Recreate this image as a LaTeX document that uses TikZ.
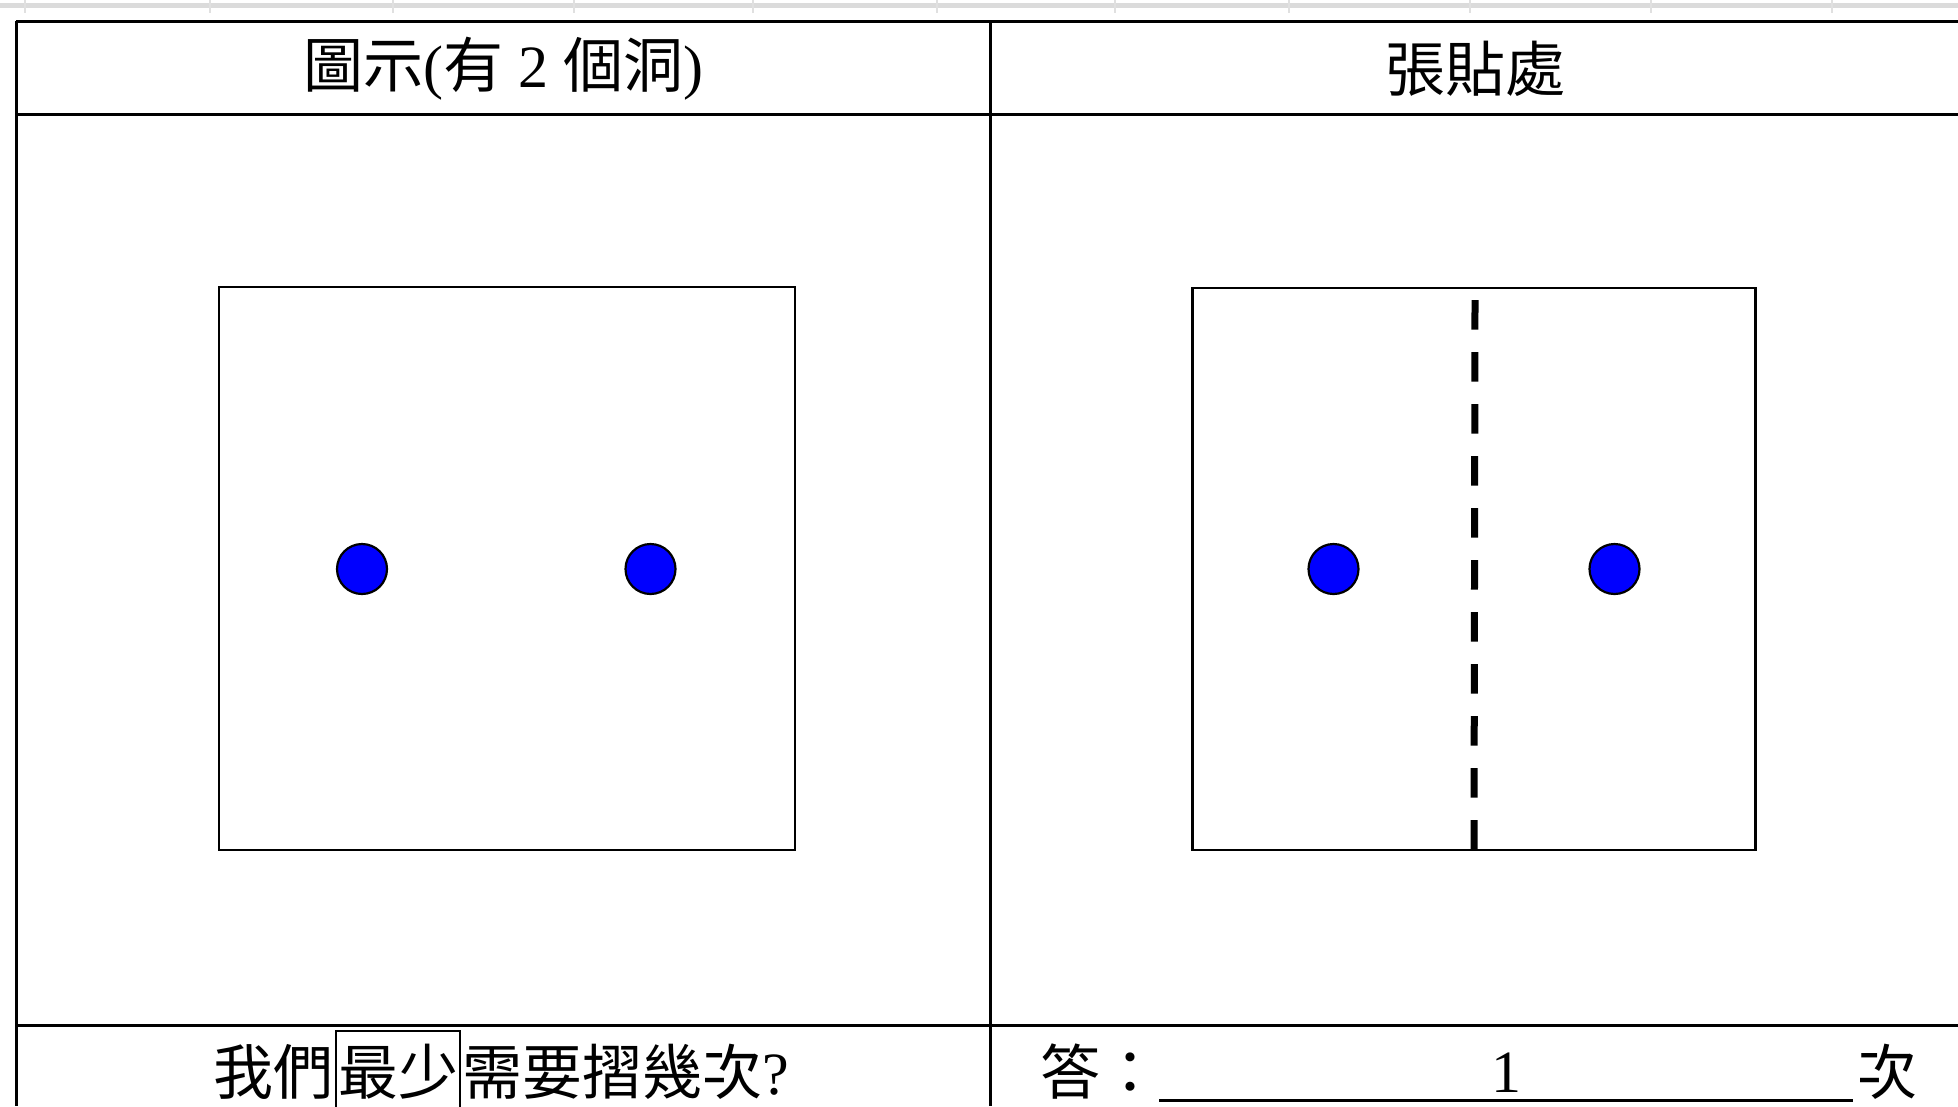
\documentclass[tikz,border=0pt]{standalone}
\usepackage{fontspec}
\setmainfont{Liberation Serif}
\newfontfamily\cjk{Noto Sans CJK TC}
\usetikzlibrary{positioning}

\begin{document}
\begin{tikzpicture}[x=1pt, y=-1pt, line width=3pt]

\tikzset{
  hole/.style={circle, draw=black, fill=blue, line width=2.2pt, minimum size=50pt, inner sep=0pt},
  paper/.style={draw=black, line width=2.6pt, inner sep=0pt},
  big/.style={font=\fontsize{60}{66}\selectfont},
  ask/.style={big, inner xsep=0pt, inner ysep=0pt, text height=63pt, text depth=30pt},
}

\useasboundingbox (0,0) rectangle (1958,1106);

% sheet grid behind the table
\fill[black!14] (0,2.5) rectangle (1958,8);
\foreach \x in {25,210,393,574,753,937,1115,1289,1470,1651,1832}
  \draw[black!12, line width=2pt] (\x,0) -- (\x,13);

\coordinate (A_l) at (16,21);   \coordinate (A_r) at (1958,21);
\coordinate (B_l) at (16,114);  \coordinate (B_r) at (1958,114);
\coordinate (C_l) at (16,1025); \coordinate (C_r) at (1958,1025);
\coordinate (L_b) at (16,1106); \coordinate (M_t) at (990,21);
\coordinate (M_b) at (990,1106);

\draw (A_l) -- (A_r);
\draw (B_l) -- (B_r);
\draw (C_l) -- (C_r);
\draw (A_l) -- (L_b);
\draw (M_t) -- (M_b);

% headers
\node[big] (head_l) at (503,69) {{\cjk 圖示}({\cjk 有} 2 {\cjk 個洞})};
\node[big] (head_r) at (1475,69) {\cjk 張貼處};

% paper before folding
\node[paper, minimum width=576pt, minimum height=563pt] (sq_l) at (507,568.5) {};
\node[hole] (hole_a) at (362,569) {};
\node[hole] (hole_b) at (650.5,569) {};

% paper with the fold line
\node[paper, minimum width=563pt, minimum height=562pt] (sq_r) at (1474,569) {};
\node[hole] (hole_c) at (1333.5,569) {};
\node[hole] (hole_d) at (1614.5,569) {};
\coordinate (fold_t) at (1475,300);
\draw[line width=7pt, dash pattern=on 29.5pt off 22.5pt] (fold_t) -- (sq_r.south);

% question
\node[ask, draw, inner xsep=2pt, line width=2pt] (ask_b) at (398,1077.5) {\cjk 最少};
\node[ask, left=0pt of ask_b] (ask_a) {\cjk 我們};
\node[ask, right=0pt of ask_b] (ask_c) {{\cjk 需要摺幾次}?};

% answer
\node[big, anchor=base west, inner sep=0pt] (ans_l) at (1039,1094) {\cjk 答：};
\coordinate (U_l) at (1159,1100); \coordinate (U_r) at (1853,1100);
\draw (U_l) -- (U_r) node[big, midway, anchor=base, yshift=8pt, inner sep=0pt] (ans_n) {1};
\node[big, anchor=base west, inner sep=0pt] (ans_r) at (1856,1094) {\cjk 次};

\end{tikzpicture}
\end{document}
